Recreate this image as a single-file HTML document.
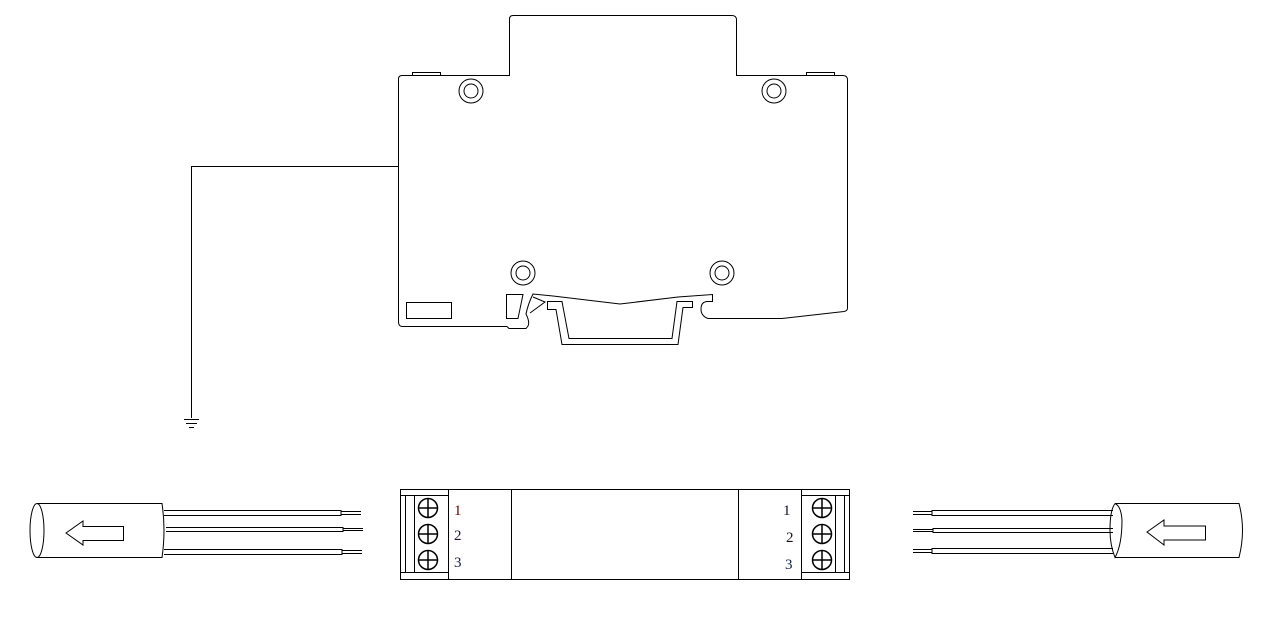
<!DOCTYPE html>
<html><head><meta charset="utf-8"><style>
html,body{margin:0;padding:0;background:#fff;width:1264px;height:623px;overflow:hidden}
svg{display:block}
text{font-family:"Liberation Serif",serif;font-size:15px}
</style></head><body>
<svg width="1264" height="623" viewBox="0 0 1264 623" xmlns="http://www.w3.org/2000/svg" fill="none" stroke="#000" stroke-width="1">
<!-- top device -->
<path d="M398.5,310 L398.5,79 Q398.5,75.5 402,75.5 L509.5,75.5 L509.5,19 Q509.5,15.5 513,15.5 L732,15.5 Q736.5,15.5 736.5,20 L736.5,75.5 L843,75.5 Q847.5,75.5 847.5,80 L847.5,308 Q847.5,311 844,311.5 L782,318.5 L708,318.5 Q701,316 701,309 Q701,302 707,301.5 L712.5,301.5 L712.5,294.5 L678,297 L620,304 L553,296 L533,294 Q528,304 526,314 Q530,322 528,326 L526,328.5 L509,328.5 L507,326.5 L402,326.5 Q398.5,326 398.5,322 Z"/>
<rect x="412.5" y="72.5" width="28" height="3"/>
<rect x="806.5" y="72.5" width="28" height="3"/>
<circle cx="471" cy="91" r="12"/><circle cx="471" cy="91" r="7"/>
<circle cx="774" cy="91" r="12"/><circle cx="774" cy="91" r="7"/>
<circle cx="523" cy="273" r="12"/><circle cx="523" cy="273" r="7"/>
<circle cx="722" cy="273" r="12"/><circle cx="722" cy="273" r="7"/>
<rect x="406.5" y="302.5" width="45" height="16"/>
<path d="M506.5,294.5 L523,294.5 L518,318.5 L506.5,318.5 Z"/>
<path d="M533,297 L545,302 L530,313"/>
<path d="M547.5,301.5 L562,301.5 L569,338.5 L672,338.5 L677,301.5 L692.5,301.5 L692.5,307.5 L683,307.5 L678,344.5 L562,344.5 L556,309.5 L547.5,309.5 Z"/>
<!-- ground -->
<path d="M398,166.5 L191.5,166.5 L191.5,418"/>
<path d="M184,419.5 L199,419.5 M186,423.5 L197,423.5 M189,427.5 L194,427.5"/>
<!-- module -->
<rect x="400.5" y="489.5" width="449" height="90"/>
<path d="M400.5,495.5 L448.5,495.5 M400.5,572.5 L448.5,572.5 M448.5,489.5 L448.5,579.5 M405.5,495.5 L405.5,572.5 M414.5,495.5 L414.5,572.5 M511.5,489.5 L511.5,579.5 M738.5,489.5 L738.5,579.5"/>
<path d="M801.5,495.5 L849.5,495.5 M801.5,572.5 L849.5,572.5 M801.5,489.5 L801.5,579.5 M835.5,495.5 L835.5,572.5 M844.5,495.5 L844.5,572.5"/>
<g stroke-width="1.5">
<circle cx="428" cy="508" r="9.5"/><path d="M418.5,508 H437.5 M428,498.5 V517.5"/>
<circle cx="428" cy="534" r="9.5"/><path d="M418.5,534 H437.5 M428,524.5 V543.5"/>
<circle cx="428" cy="560" r="9.5"/><path d="M418.5,560 H437.5 M428,550.5 V569.5"/>
<circle cx="822" cy="508" r="9.5"/><path d="M812.5,508 H831.5 M822,498.5 V517.5"/>
<circle cx="822" cy="534" r="9.5"/><path d="M812.5,534 H831.5 M822,524.5 V543.5"/>
<circle cx="822" cy="560" r="9.5"/><path d="M812.5,560 H831.5 M822,550.5 V569.5"/>
</g>
<g stroke="none">
<text x="454" y="515" fill="#600">1</text>
<text x="454" y="540" fill="#213">2</text>
<text x="454" y="567" fill="#124">3</text>
<text x="783" y="515" fill="#112">1</text>
<text x="786" y="542" fill="#211">2</text>
<text x="785" y="569" fill="#124">3</text>
</g>
<!-- left cable -->
<ellipse cx="37" cy="530.5" rx="7" ry="27"/>
<path d="M37,503.5 L162,503.5 Q166,530 162,557.5 L37,557.5"/>
<path d="M66,533 L83,521 L83,526.5 L123.5,526.5 L123.5,540.5 L83,540.5 L83,545 Z"/>
<path d="M164,510.5 L341,510.5 L341,515.5 L164,515.5 M341,511.5 L361,511.5 M341,514.5 L361,514.5"/>
<path d="M166,527.5 L343,527.5 L343,531.5 L166,531.5 M343,528.5 L363,528.5 M343,530.5 L363,530.5"/>
<path d="M164,549.5 L342,549.5 L342,554.5 L164,554.5 M342,550.5 L362,550.5 M342,553.5 L362,553.5"/>
<!-- right cable -->
<path d="M1115,503.5 L1239,503.5 Q1246,530 1239,557.5 L1115,557.5"/>
<path d="M1115,503.5 Q1121,506 1122,520 Q1122,545 1115,557.5 Q1110,545 1110,530 Q1110,510 1115,503.5"/>
<path d="M1147,532 L1164,520 L1164,526 L1205.5,526 L1205.5,540 L1164,540 L1164,545 Z"/>
<path d="M1113,510.5 L932,510.5 L932,515.5 L1113,515.5 M932,511.5 L913,511.5 M932,514.5 L913,514.5"/>
<path d="M1113,528.5 L933,528.5 L933,532.5 L1113,532.5 M933,529.5 L913,529.5 M933,531.5 L913,531.5"/>
<path d="M1113,548.5 L932,548.5 L932,553.5 L1113,553.5 M932,549.5 L913,549.5 M932,552.5 L913,552.5"/>
</svg>
</body></html>
